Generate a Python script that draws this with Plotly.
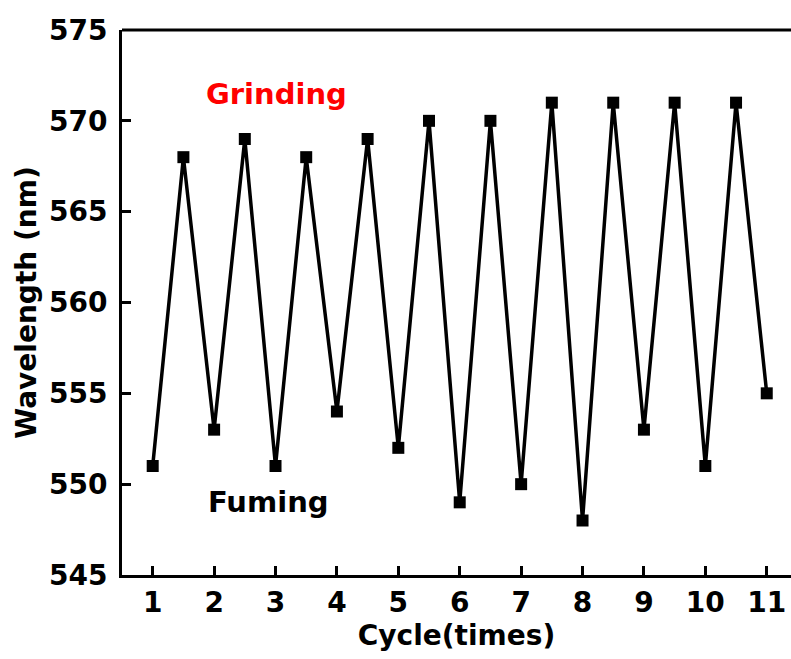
import plotly.graph_objects as go

cycles = [1, 1.5, 2, 2.5, 3, 3.5, 4, 4.5, 5, 5.5, 6, 6.5, 7, 7.5, 8, 8.5, 9, 9.5, 10, 10.5, 11]
wavelength = [551, 568, 553, 569, 551, 568, 554, 569, 552, 570, 549, 570, 550, 571, 548, 571, 553, 571, 551, 571, 555]
x_ticks = list(range(1, 12))
y_ticks = [545, 550, 555, 560, 565, 570, 575]

FONT = "DejaVu Sans"

fig = go.Figure()
fig.add_trace(go.Scatter(
    x=cycles, y=wavelength, mode="lines+markers",
    line=dict(color="black", width=3.5),
    marker=dict(symbol="square", size=12, color="black"),
    cliponaxis=False, showlegend=False,
))

fig.add_annotation(x=3.02, y=571.5, text="<b>Grinding</b>", showarrow=False,
                   font=dict(family=FONT, size=29, color="#ff0000"))
fig.add_annotation(x=2.89, y=549.0, text="<b>Fuming</b>", showarrow=False,
                   font=dict(family=FONT, size=29, color="black"))

fig.add_shape(type="line", xref="paper", yref="paper", x0=0, x1=1, y0=1, y1=1,
              line=dict(color="black", width=3))

fig.update_layout(
    width=791, height=659,
    margin=dict(l=122, r=0, t=30, b=84),
    plot_bgcolor="white", paper_bgcolor="white",
    font=dict(family=FONT, color="black"),
    xaxis=dict(
        range=[0.5, 11.395], tickvals=x_ticks, ticktext=[f"<b>{v}</b>" for v in x_ticks],
        ticks="inside", ticklen=9, tickwidth=2.5, tickcolor="black",
        showline=True, linewidth=3, linecolor="black", showgrid=False, zeroline=False,
        tickfont=dict(family=FONT, size=28, color="black"),
        title=dict(text="<b>Cycle(times)</b>", font=dict(family=FONT, size=28, color="black"), standoff=4),
    ),
    yaxis=dict(
        range=[545, 575], tickvals=y_ticks, ticktext=[f"<b>{v}</b>" for v in y_ticks],
        ticks="inside", ticklen=9, tickwidth=2.5, tickcolor="black",
        showline=True, linewidth=3, linecolor="black", showgrid=False, zeroline=False,
        tickfont=dict(family=FONT, size=28, color="black"),
        ticklabelstandoff=6,
        title=dict(text="<b>Wavelength (nm)</b>", font=dict(family=FONT, size=28, color="black"), standoff=5),
    ),
)

fig.write_html("out.html")
